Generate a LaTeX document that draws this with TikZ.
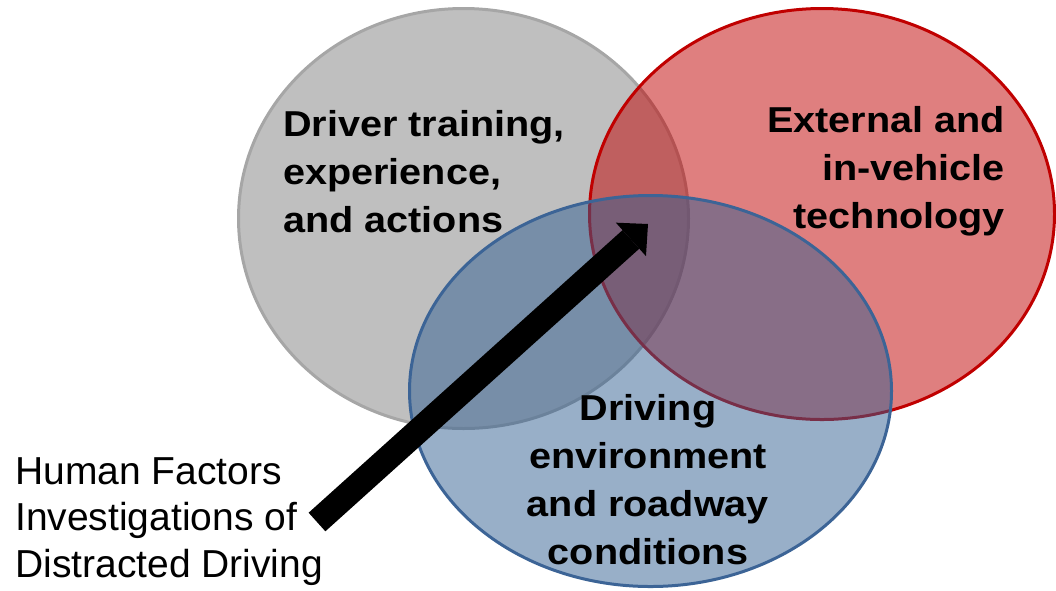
\documentclass[tikz,border=0pt]{standalone}
\usepackage{fontspec}
\setmainfont{Liberation Sans}
\newfontfamily\boldlabel[FakeStretch=1.1]{Liberation Sans}
\usetikzlibrary{shapes.geometric,arrows.meta}
\definecolor{grayfill}{RGB}{127,127,127}
\definecolor{grayline}{RGB}{166,166,166}
\definecolor{redfill}{RGB}{192,0,0}
\definecolor{redline}{RGB}{192,0,0}
\definecolor{bluefill}{RGB}{50,95,145}
\definecolor{blueline}{RGB}{60,100,150}
\begin{document}
\begin{tikzpicture}[x=1pt,y=-1pt,
  venn/.style={ellipse, inner sep=0pt, outer sep=0pt, line width=3pt, fill opacity=0.5},
  boldtext/.style={font=\boldlabel\bfseries\fontsize{36}{48}\selectfont, inner sep=0pt, text=black},
  plaintext/.style={font=\fontsize{39}{46.5}\selectfont, inner sep=0pt, text=black, align=left},
  bigarrow/.style={line width=25pt, -{Triangle[width=45pt,length=23pt,line width=0pt]}, black}]
\useasboundingbox (0,0) rectangle (1056,590);
% sets
\node[venn, draw=grayline, fill=grayfill, minimum width=450pt, minimum height=420pt] (driver) at (463.5,218.5) {};
\node[venn, draw=redline, fill=redfill, minimum width=465pt, minimum height=411pt] (tech) at (822,214) {};
\node[venn, draw=blueline, fill=bluefill, minimum width=482pt, minimum height=391pt] (env) at (650.5,391) {};
% labels
\node[boldtext, align=left, anchor=north west] (driverlabel) at (283,110) {Driver training,\\experience,\\and actions};
\node[boldtext, align=right, anchor=north east] (techlabel) at (1005,106) {External and\\in-vehicle\\technology};
\node[boldtext, align=center, anchor=north] (envlabel) at (648,394) {Driving\\environment\\and roadway\\conditions};
\node[plaintext, anchor=north west] (hf) at (15,457) {Human Factors\\Investigations of\\Distracted Driving};
% arrow
\coordinate (tail) at (317,522);
\coordinate (tip) at (648,224);
\draw[bigarrow] (tail) -- (tip);
\end{tikzpicture}
\end{document}
